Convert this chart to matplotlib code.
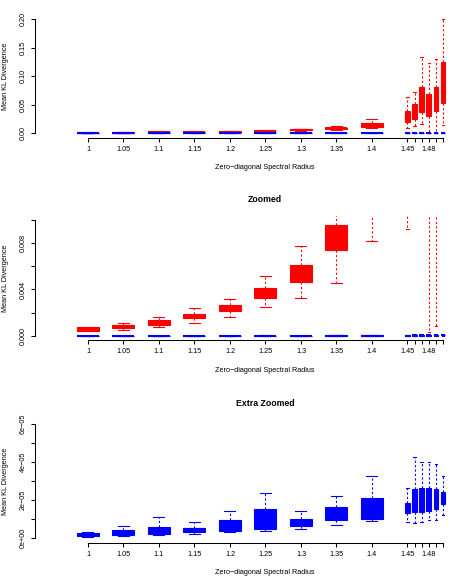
import numpy as np
import matplotlib
matplotlib.use("Agg")
import matplotlib.pyplot as plt

plt.rcParams['font.family'] = ['Liberation Sans', 'DejaVu Sans']

# spectral radius values (box positions)
radius = [1.0, 1.05, 1.1, 1.15, 1.2, 1.25, 1.3, 1.35, 1.4, 1.45, 1.46, 1.47, 1.48, 1.49, 1.5]
tick_labels = ['1', '1.05', '1.1', '1.15', '1.2', '1.25', '1.3', '1.35', '1.4',
               '1.45', '', '', '1.48', '', '']

# red method: whisker low, q1, median, q3, whisker high
red_lo = [0.00038, 0.00052, 0.00075, 0.0011, 0.00159, 0.00248, 0.00324, 0.00459, 0.00823,
          0.0092, 0.0123, 0.0158, 0.0003, 0.0008, 0.014]
red_q1 = [0.00043, 0.00067, 0.00095, 0.00151, 0.00211, 0.00324, 0.00468, 0.0074, 0.0106,
          0.020, 0.0246, 0.0364, 0.0305, 0.0392, 0.0533]
red_med = [0.00058, 0.0008, 0.0011, 0.0017, 0.0024, 0.0037, 0.0054, 0.0085, 0.014,
           0.028, 0.036, 0.055, 0.048, 0.060, 0.090]
red_q3 = [0.00073, 0.00093, 0.00133, 0.00188, 0.00266, 0.00416, 0.0061, 0.00958, 0.018,
          0.0387, 0.051, 0.0815, 0.0686, 0.0815, 0.1243]
red_hi = [0.00078, 0.00107, 0.00162, 0.00237, 0.00318, 0.00514, 0.00777, 0.0125, 0.0246,
          0.064, 0.0727, 0.134, 0.1237, 0.131, 0.201]

# blue method (units of 1e-5)
blue_lo = [0.07, 0.12, 0.175, 0.23, 0.3, 0.39, 0.47, 0.67, 0.88, 0.86, 0.77, 0.86, 0.95, 0.95, 1.21]
blue_q1 = [0.105, 0.175, 0.19, 0.32, 0.39, 0.49, 0.65, 0.93, 1.02, 1.3, 1.35, 1.35, 1.42, 1.54, 1.79]
blue_med = [0.17, 0.3, 0.35, 0.45, 0.6, 0.9, 0.8, 1.25, 1.45, 1.55, 2.0, 2.0, 2.1, 2.1, 2.1]
blue_q3 = [0.246, 0.44, 0.6, 0.54, 0.93, 1.54, 0.98, 1.65, 2.09, 1.86, 2.56, 2.61, 2.61, 2.58, 2.39]
blue_hi = [0.3, 0.61, 1.1, 0.82, 1.42, 2.35, 1.4, 2.21, 3.25, 2.65, 4.23, 4.0, 4.0, 3.91, 3.23]


def make_stats(lo, q1, med, q3, hi, scale=1.0):
    return [dict(whislo=a * scale, q1=b * scale, med=c * scale, q3=d * scale, whishi=e * scale)
            for a, b, c, d, e in zip(lo, q1, med, q3, hi)]


red_stats = make_stats(red_lo, red_q1, red_med, red_q3, red_hi)
blue_stats = make_stats(blue_lo, blue_q1, blue_med, blue_q3, blue_hi, 1e-5)

widths = [0.031 if r <= 1.4 else 0.0066 for r in radius]
capw = [w * 0.5 for w in widths]

W, H = 457, 577
fig = plt.figure(figsize=(W / 100, H / 100), dpi=100)

# panel setup: (top px, bottom px, ylim, yticks, ytick labels, title, title pad)
panels = [
    (14.8, 137.5, (-0.008, 0.208), [0, 0.05, 0.10, 0.15, 0.20],
     ['0.00', '0.05', '0.10', '0.15', '0.20'], 'Spectral Radius vs Divergence for Both Models', 11.8),
    (215.6, 340.3, (-0.0004, 0.0104), [0, 0.002, 0.004, 0.006, 0.008, 0.010],
     ['0.000', '', '0.004', '', '0.008', ''], 'Zoomed', 9.5),
    (419.1, 542.6, (-0.24e-5, 6.24e-5), [0, 1e-5, 2e-5, 3e-5, 4e-5, 5e-5, 6e-5],
     ['0e+00', '', '2e\u221205', '', '4e\u221205', '', '6e\u221205'], 'Extra Zoomed', 9.5),
]

left_px, right_px = 35, 495

for top, bottom, ylim, yt, ytl, title, tpad in panels:
    ax = fig.add_axes([left_px / W, 1 - bottom / H, (right_px - left_px) / W, (bottom - top) / H])
    for stats, col in [(red_stats, '#FF0000'), (blue_stats, '#0000FF')]:
        ax.bxp(stats, positions=radius, widths=widths, capwidths=capw,
               patch_artist=True, showfliers=False, manage_ticks=False,
               boxprops=dict(facecolor=col, edgecolor=col, linewidth=0.8),
               whiskerprops=dict(color=col, linewidth=0.8, linestyle=(0, (2, 2))),
               capprops=dict(color=col, linewidth=0.8),
               medianprops=dict(color=col, linewidth=1.5))
    ax.set_xlim(0.9254, 1.5733)
    ax.set_ylim(*ylim)
    ax.set_xticks(radius)
    ax.set_xticklabels(tick_labels)
    ax.set_yticks(yt)
    ax.set_yticklabels(ytl, rotation=90, va='center', ha='right')
    for s in ['top', 'right']:
        ax.spines[s].set_visible(False)
    ax.spines['left'].set_bounds(yt[0], yt[-1])
    ax.spines['bottom'].set_bounds(radius[0], radius[-1])
    for s in ['left', 'bottom']:
        ax.spines[s].set_linewidth(0.75)
    ax.tick_params(labelsize=5.2, length=2.9, width=0.75, pad=2.9, colors='black')
    ax.set_xlabel('Zero\u2212diagonal Spectral Radius', fontsize=5.2, va='center')
    ax.xaxis.set_label_coords(0.5, -0.242)
    ax.set_ylabel('Mean KL Divergence', fontsize=5.2, va='center')
    ax.yaxis.set_label_coords(-30 / (right_px - left_px), 0.5)
    ax.set_title(title, fontsize=6.3, fontweight='bold', pad=tpad)

fig.savefig('out.png', dpi=100)
